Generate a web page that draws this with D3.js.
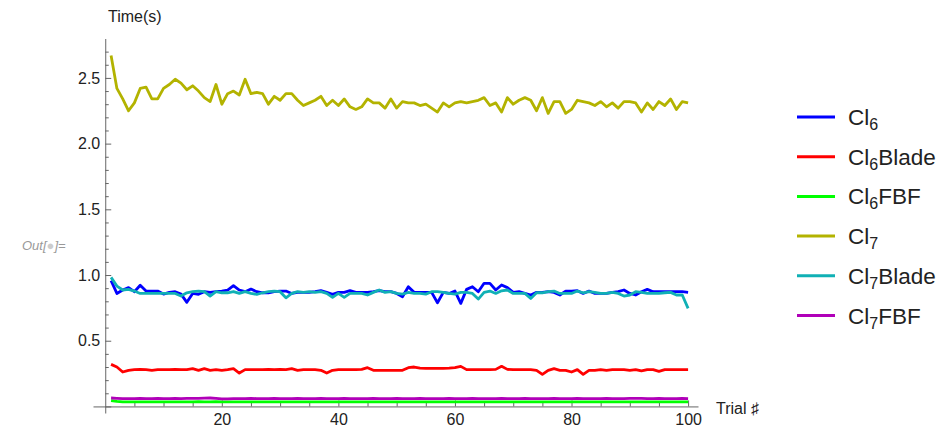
<!DOCTYPE html>
<html>
<head>
<meta charset="utf-8">
<script src="https://cdn.jsdelivr.net/npm/d3@7"></script>
<style>
  body { margin: 0; background: #fff; }
  svg { font-family: "Liberation Sans", Arial, sans-serif; }
</style>
</head>
<body>
<div class="canvas"></div>
<script>
// Data
const seriesNames = ['Cl6', 'Cl6Blade', 'Cl6FBF', 'Cl7', 'Cl7Blade', 'Cl7FBF']
const trials = d3.range(1, 101)

const cl6 = [
  0.957, 0.860, 0.886, 0.904, 0.873, 0.922, 0.878, 0.878, 0.878, 0.855,
  0.868, 0.873, 0.855, 0.792, 0.860, 0.853, 0.873, 0.868, 0.873, 0.878,
  0.886, 0.919, 0.886, 0.873, 0.893, 0.873, 0.865, 0.865, 0.873, 0.878,
  0.878, 0.860, 0.868, 0.868, 0.868, 0.873, 0.881, 0.868, 0.853, 0.868,
  0.868, 0.881, 0.868, 0.868, 0.868, 0.873, 0.881, 0.873, 0.873, 0.860,
  0.835, 0.911, 0.868, 0.868, 0.868, 0.868, 0.789, 0.868, 0.860, 0.878,
  0.784, 0.891, 0.911, 0.873, 0.937, 0.937, 0.886, 0.924, 0.904, 0.868,
  0.873, 0.860, 0.848, 0.868, 0.868, 0.873, 0.868, 0.848, 0.878, 0.878,
  0.881, 0.860, 0.878, 0.860, 0.860, 0.860, 0.868, 0.873, 0.886, 0.860,
  0.848, 0.873, 0.891, 0.873, 0.873, 0.873, 0.873, 0.873, 0.873, 0.868
]
const cl6Blade = [
  0.320, 0.300, 0.262, 0.275, 0.280, 0.282, 0.280, 0.275, 0.280, 0.280,
  0.280, 0.282, 0.280, 0.280, 0.287, 0.275, 0.287, 0.275, 0.280, 0.275,
  0.280, 0.287, 0.254, 0.280, 0.280, 0.280, 0.280, 0.282, 0.280, 0.282,
  0.280, 0.287, 0.275, 0.280, 0.280, 0.280, 0.275, 0.254, 0.275, 0.280,
  0.280, 0.280, 0.280, 0.282, 0.295, 0.275, 0.275, 0.275, 0.275, 0.275,
  0.275, 0.295, 0.300, 0.292, 0.290, 0.290, 0.290, 0.290, 0.292, 0.295,
  0.305, 0.280, 0.280, 0.280, 0.280, 0.280, 0.282, 0.305, 0.282, 0.280,
  0.280, 0.280, 0.280, 0.275, 0.244, 0.275, 0.287, 0.275, 0.275, 0.262,
  0.280, 0.244, 0.275, 0.275, 0.280, 0.275, 0.280, 0.280, 0.280, 0.275,
  0.280, 0.270, 0.280, 0.280, 0.267, 0.280, 0.280, 0.280, 0.280, 0.280
]
const cl6FBF = [
  0.045, 0.038, 0.035, 0.035, 0.034, 0.035, 0.035, 0.034, 0.035, 0.035,
  0.035, 0.034, 0.035, 0.035, 0.035, 0.036, 0.035, 0.035, 0.036, 0.035,
  0.035, 0.035, 0.034, 0.035, 0.035, 0.035, 0.035, 0.034, 0.035, 0.035,
  0.035, 0.035, 0.035, 0.034, 0.035, 0.035, 0.035, 0.035, 0.035, 0.034,
  0.035, 0.035, 0.035, 0.035, 0.034, 0.035, 0.035, 0.035, 0.035, 0.035,
  0.035, 0.034, 0.035, 0.035, 0.035, 0.035, 0.035, 0.035, 0.034, 0.035,
  0.035, 0.035, 0.035, 0.035, 0.035, 0.034, 0.035, 0.035, 0.035, 0.035,
  0.035, 0.035, 0.034, 0.035, 0.035, 0.035, 0.035, 0.035, 0.035, 0.034,
  0.035, 0.035, 0.035, 0.035, 0.035, 0.035, 0.034, 0.035, 0.035, 0.035,
  0.035, 0.035, 0.035, 0.034, 0.035, 0.035, 0.035, 0.035, 0.035, 0.035
]
const cl7 = [
  2.67, 2.42, 2.34, 2.25, 2.31, 2.42, 2.43, 2.34, 2.34, 2.42,
  2.45, 2.49, 2.46, 2.41, 2.44, 2.40, 2.35, 2.32, 2.45, 2.30,
  2.38, 2.40, 2.37, 2.49, 2.38, 2.39, 2.38, 2.30, 2.36, 2.33,
  2.38, 2.38, 2.33, 2.29, 2.31, 2.33, 2.36, 2.29, 2.33, 2.29,
  2.34, 2.28, 2.26, 2.28, 2.34, 2.31, 2.31, 2.27, 2.34, 2.27,
  2.32, 2.31, 2.31, 2.29, 2.30, 2.27, 2.24, 2.31, 2.28, 2.31,
  2.32, 2.31, 2.32, 2.33, 2.35, 2.29, 2.31, 2.24, 2.35, 2.30,
  2.33, 2.35, 2.33, 2.25, 2.35, 2.23, 2.32, 2.32, 2.23, 2.26,
  2.33, 2.32, 2.31, 2.29, 2.32, 2.28, 2.31, 2.27, 2.32, 2.32,
  2.31, 2.24, 2.31, 2.26, 2.32, 2.29, 2.34, 2.26, 2.32, 2.31
]
const cl7Blade = [
  0.982, 0.916, 0.886, 0.891, 0.878, 0.860, 0.860, 0.860, 0.860, 0.860,
  0.860, 0.860, 0.840, 0.865, 0.873, 0.878, 0.873, 0.840, 0.873, 0.865,
  0.865, 0.873, 0.860, 0.873, 0.860, 0.853, 0.865, 0.873, 0.878, 0.873,
  0.827, 0.860, 0.873, 0.868, 0.873, 0.868, 0.873, 0.860, 0.830, 0.860,
  0.830, 0.860, 0.860, 0.860, 0.848, 0.868, 0.886, 0.868, 0.873, 0.860,
  0.855, 0.868, 0.860, 0.860, 0.855, 0.873, 0.873, 0.868, 0.860, 0.855,
  0.868, 0.868, 0.860, 0.817, 0.868, 0.878, 0.860, 0.880, 0.886, 0.860,
  0.860, 0.860, 0.822, 0.865, 0.865, 0.873, 0.878, 0.860, 0.860, 0.860,
  0.878, 0.865, 0.873, 0.868, 0.860, 0.860, 0.868, 0.860, 0.840, 0.848,
  0.873, 0.868, 0.860, 0.860, 0.860, 0.865, 0.868, 0.848, 0.848, 0.746
]
const cl7FBF = [
  0.064, 0.062, 0.060, 0.060, 0.060, 0.061, 0.060, 0.060, 0.061, 0.060,
  0.060, 0.061, 0.060, 0.061, 0.061, 0.062, 0.063, 0.064, 0.062, 0.058,
  0.058, 0.060, 0.060, 0.060, 0.061, 0.060, 0.060, 0.060, 0.061, 0.060,
  0.060, 0.060, 0.061, 0.060, 0.060, 0.060, 0.061, 0.060, 0.060, 0.060,
  0.061, 0.060, 0.060, 0.060, 0.060, 0.061, 0.060, 0.060, 0.060, 0.061,
  0.060, 0.060, 0.060, 0.061, 0.060, 0.060, 0.060, 0.060, 0.061, 0.060,
  0.060, 0.060, 0.061, 0.060, 0.060, 0.060, 0.060, 0.061, 0.060, 0.060,
  0.060, 0.061, 0.060, 0.060, 0.060, 0.060, 0.061, 0.060, 0.060, 0.060,
  0.061, 0.060, 0.060, 0.060, 0.060, 0.061, 0.060, 0.060, 0.060, 0.061,
  0.062, 0.061, 0.060, 0.060, 0.061, 0.060, 0.060, 0.060, 0.061, 0.060
]
const seriesValues = [cl6, cl6Blade, cl6FBF, cl7, cl7Blade, cl7FBF]
const seriesColors = ['#0000ff', '#ff0000', '#00ff00', '#b3b300', '#10b0b5', '#b000b8']

const xMajorTicks = [20, 40, 60, 80, 100]
const yMajorTicks = [0, 0.5, 1.0, 1.5, 2.0, 2.5]

// svg
const svg = d3.select('.canvas')
  .append('svg')
    .attr('width', 940)
    .attr('height', 430)

// Scales (axes cross at the origin)
const x = d3.scaleLinear()
  .domain([-2.1, 101.7])
  .range([93, 698])

const y = d3.scaleLinear()
  .domain([-0.05, 2.8])
  .range([413, 38.5])

const axisColor = '#666'
const labelColor = '#222'

// x axis: major ticks with labels, minor ticks without
const xMinor = d3.range(5, 101, 5).filter(v => v % 20 !== 0)
const xAxisGroup = svg.append('g')
  .attr('transform', `translate(0, ${y(0)})`)
xAxisGroup.call(d3.axisBottom(x).tickValues(xMajorTicks).tickSizeInner(-6).tickSizeOuter(0).tickPadding(7))
xAxisGroup.append('g')
  .call(d3.axisBottom(x).tickValues(xMinor).tickSizeInner(-3.5).tickSizeOuter(0).tickFormat(''))
  .select('.domain').remove()

// y axis
const yMinor = d3.range(1, 28).map(v => v / 10).filter(v => Math.round(v * 10) % 5 !== 0)
const yAxisGroup = svg.append('g')
  .attr('transform', `translate(${x(0)}, 0)`)
yAxisGroup.call(d3.axisLeft(y).tickValues(yMajorTicks).tickSizeInner(-6).tickSizeOuter(0).tickPadding(5)
  .tickFormat(v => v === 0 ? '' : d3.format('.1f')(v)))
yAxisGroup.append('g')
  .call(d3.axisLeft(y).tickValues(yMinor).tickSizeInner(-3.5).tickSizeOuter(0).tickFormat(''))
  .select('.domain').remove()

svg.selectAll('.domain, .tick line')
  .attr('stroke', axisColor)
  .attr('stroke-width', 1)
svg.selectAll('.tick text')
  .attr('fill', labelColor)
  .attr('font-size', 16)
  .attr('font-family', '"Liberation Sans", Arial, sans-serif')

// Axis labels
svg.append('text')
  .attr('x', 108).attr('y', 22)
  .attr('font-size', 16).attr('fill', labelColor)
  .text('Time(s)')
svg.append('text')
  .attr('x', 716).attr('y', 414)
  .attr('font-size', 16).attr('fill', labelColor)
  .text('Trial \u266F')

// Out[...]= cell label
const outLabel = svg.append('text')
  .attr('x', 22).attr('y', 250)
  .attr('font-size', 13).attr('font-style', 'italic').attr('fill', '#999')
outLabel.append('tspan').text('Out[')
outLabel.append('tspan').attr('fill', '#ccc').text('\u25CF')
outLabel.append('tspan').text(']=')

// Lines
const line = d3.line()
  .x((d, i) => x(trials[i]))
  .y(d => y(d))

svg.append('g')
  .selectAll('path')
  .data(seriesValues)
  .enter()
  .append('path')
    .attr('d', line)
    .attr('fill', 'none')
    .attr('stroke', (d, i) => seriesColors[i])
    .attr('stroke-width', 2.8)
    .attr('stroke-linejoin', 'round')

// Legend
const legend = svg.append('g')
  .selectAll('g')
  .data(seriesNames)
  .enter()
  .append('g')
    .attr('transform', (d, i) => `translate(797, ${117 + i * 39.7})`)

legend.append('line')
  .attr('x1', 0).attr('x2', 38)
  .attr('stroke', (d, i) => seriesColors[i])
  .attr('stroke-width', 3)

const legendText = legend.append('text')
  .attr('x', 51).attr('y', 8)
  .attr('font-size', 22.5).attr('fill', labelColor)
legendText.append('tspan').text('Cl')
legendText.append('tspan')
  .attr('font-size', 16).attr('dy', 5)
  .text(d => d.charAt(2))
legendText.append('tspan')
  .attr('dy', -5)
  .text(d => d.slice(3))
</script>
</body>
</html>
